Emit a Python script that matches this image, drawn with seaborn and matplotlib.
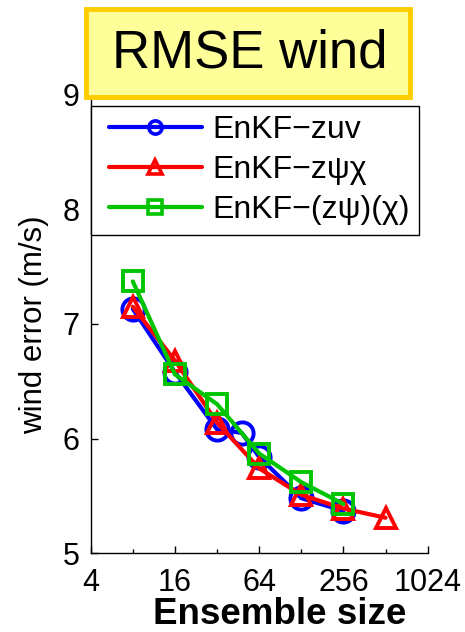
import matplotlib
matplotlib.use("Agg")
import matplotlib.pyplot as plt
from matplotlib.lines import Line2D
from matplotlib.legend_handler import HandlerLine2D
from matplotlib.patches import Rectangle
import seaborn as sns
import pandas as pd

# ---- data ----
x_zuv = [8, 16, 32, 48, 64, 128, 256]
y_zuv = [7.13, 6.58, 6.08, 6.05, 5.84, 5.48, 5.37]
x_zpc = [8, 16, 32, 64, 128, 256, 512]
y_zpc = [7.15, 6.68, 6.14, 5.74, 5.51, 5.39, 5.31]
x_zp_c = [8, 16, 32, 64, 128, 256]
y_zp_c = [7.37, 6.56, 6.30, 5.87, 5.62, 5.43]
labels = ["EnKF\u2212zuv", "EnKF\u2212z\u03c8\u03c7", "EnKF\u2212(z\u03c8)(\u03c7)"]
xtick_vals = [4, 16, 64, 256, 1024]
xtick_labels = ["4", "16", "64", "256", "1024"]
xminor_vals = [8, 32, 128, 512]
ytick_vals = [5, 6, 7, 8, 9]
title_text = "RMSE wind"
xlabel_text = "Ensemble size"
ylabel_text = "wind error (m/s)"

sns.set_style("ticks")
plt.rcParams["font.family"] = ["Liberation Sans", "DejaVu Sans"]
plt.rcParams["text.color"] = "black"
plt.rcParams["axes.labelcolor"] = "black"
plt.rcParams["xtick.color"] = "black"
plt.rcParams["ytick.color"] = "black"

fig = plt.figure(figsize=(4.65, 6.32), dpi=100)
ax = fig.add_axes([90.7 / 465, 1 - 553.3 / 632, 337 / 465, 458.8 / 632])

colors = ["#0000FF", "#FF0000", "#00C400"]
markers = ["o", "^", "s"]
msizes = [16, 15, 14]
series = [(x_zuv, y_zuv), (x_zpc, y_zpc), (x_zp_c, y_zp_c)]

for (xs, ys), lab, c, m, ms in zip(series, labels, colors, markers, msizes):
    df = pd.DataFrame({"n": xs, "err": ys})
    sns.lineplot(data=df, x="n", y="err", ax=ax, color=c, linewidth=3,
                 marker=m, markersize=ms, markerfacecolor="none",
                 markeredgecolor=c, markeredgewidth=2.8, legend=False)

ax.set_xscale("log", base=2)
ax.set_xlim(4, 1024)
ax.set_ylim(5, 9)
ax.set_xticks(xtick_vals)
ax.set_xticklabels(xtick_labels)
ax.set_xticks(xminor_vals, minor=True)
ax.set_xticklabels([""] * len(xminor_vals), minor=True)
ax.set_yticks(ytick_vals)
ax.set_yticklabels([str(v) for v in ytick_vals])
ax.tick_params(axis="both", which="major", direction="in", length=5, width=1,
               labelsize=22, colors="black")
ax.tick_params(axis="x", which="major", pad=10.5)
ax.tick_params(axis="y", which="major", pad=8)
ax.tick_params(axis="x", which="minor", direction="in", length=3, width=1)
ax.tick_params(axis="y", which="minor", left=False)
for s in ["top", "right"]:
    ax.spines[s].set_visible(False)
for s in ["left", "bottom"]:
    ax.spines[s].set_linewidth(1.0)
    ax.spines[s].set_color("black")
ax.grid(False)

ax.set_xlabel(xlabel_text, fontsize=26.5, fontweight="bold", color="black")
ax.xaxis.set_label_coords(0.562, -0.096)
ax.set_ylabel(ylabel_text, fontsize=22.5, color="black")
ax.yaxis.set_label_coords(-0.125, 0.4976)

handles = [Line2D([], [], color=c, linewidth=3, marker=m, markersize=9.5,
                  markerfacecolor="none", markeredgecolor=c, markeredgewidth=2.6)
           for c, m in zip(colors, markers)]
leg = ax.legend(handles, labels, loc="upper left", bbox_to_anchor=(0.0, 0.975),
                borderaxespad=0, fontsize=23, handlelength=3.18, handletextpad=0.34,
                labelspacing=0.31, borderpad=0.295, fancybox=False, framealpha=1,
                edgecolor="black", frameon=True,
                handler_map={Line2D: HandlerLine2D(xpad=0.27)})
leg.get_frame().set_linewidth(1.0)

rect = Rectangle((86 / 465, 1 - 97 / 632), 324 / 465, 88 / 632,
                 transform=fig.transFigure, facecolor="#FFFF99",
                 edgecolor="#FFCC00", linewidth=3.5, zorder=10)
fig.patches.append(rect)
fig.text(249.5 / 465, 1 - 53 / 632, title_text, fontsize=38, ha="center",
         va="center", zorder=11, color="black")

fig.savefig("out.png", dpi=100)
